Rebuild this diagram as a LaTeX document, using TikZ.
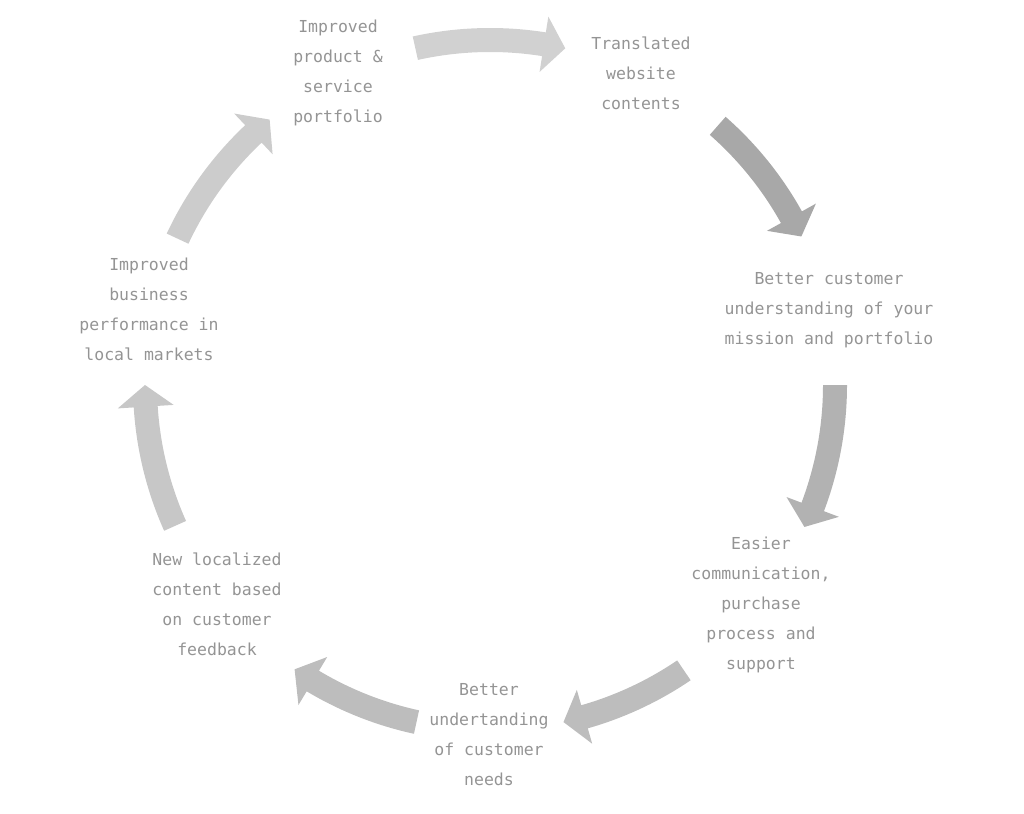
\documentclass[tikz,border=0pt]{standalone}
\usepackage{fontspec}
\setmonofont{DejaVu Sans Mono}
\usepackage{tikz}
\usetikzlibrary{positioning}

\colorlet{textgray}{black!42}

% thick curved arrow on the cycle circle: tail angle, tip angle, colour
\newcommand{\cyclearrow}[3]{%
  \fill[#3] (#1:357pt) arc[start angle=#1, end angle={#2+3.6}, radius=357pt]
    -- ({#2+3.6}:373pt) -- (#2:345pt) -- ({#2+3.6}:317pt)
    -- ({#2+3.6}:333pt) arc[start angle={#2+3.6}, end angle=#1, radius=333pt] -- cycle;}

\begin{document}
\begin{tikzpicture}[
  x=1pt, y=1pt,
  stage/.style={align=center, text=textgray, inner sep=0pt, font=\ttfamily\fontsize{16.5}{30}\selectfont}
]
\useasboundingbox (0,0) rectangle (1024,-813);

\node[stage] (portfolio) at (338,-73) {Improved\\product \&\\service\\portfolio};
\node[stage] (website) at (641,-73) {Translated\\website\\contents};
\node[stage] (mission) at (829,-310) {Better customer\\understanding of your\\mission and portfolio};
\node[stage] (support) at (761,-605) {Easier\\communication,\\purchase\\process and\\support};
\node[stage] (needs) at (489,-735) {Better\\undertanding\\of customer\\needs};
\node[stage] (feedback) at (217,-604) {New localized\\content based\\on customer\\feedback};
\node[stage] (markets) at (149,-309) {Improved\\business\\performance in\\local markets};

\begin{scope}[shift={(490,-385)}]
  \foreach \from/\to/\shade in {102.5/77.4/black!18, 48.7/25.5/black!34, 0/-24.3/black!30,
      -55.8/-77.7/black!26, -102.3/-124.5/black!26, -155.9/-180/black!22, -205.1/-230.3/black!20}
    \cyclearrow{\from}{\to}{\shade};
\end{scope}

\end{tikzpicture}
\end{document}
